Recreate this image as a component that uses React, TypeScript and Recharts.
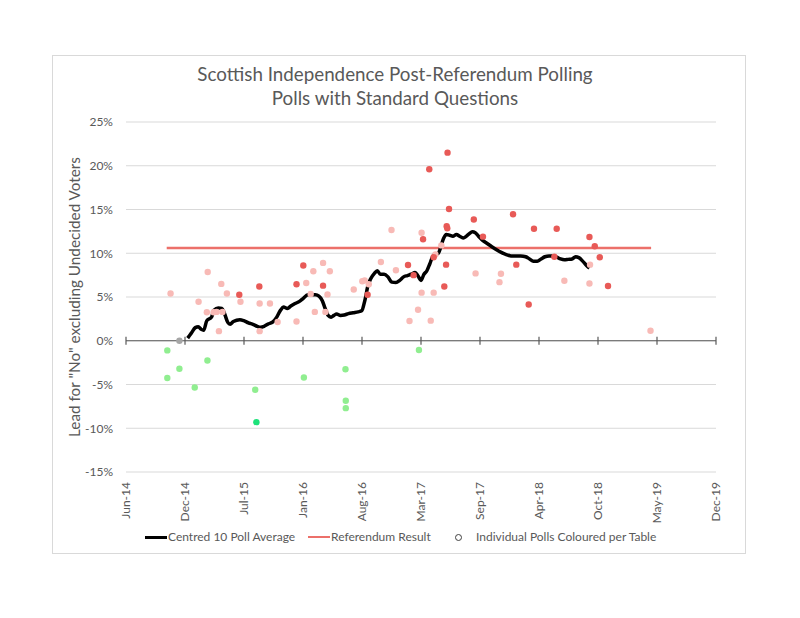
import React from 'react'
import {
  ComposedChart,
  Line,
  Scatter,
  XAxis,
  YAxis,
  CartesianGrid,
  ReferenceLine,
} from 'recharts'

// x values are Excel serial dates, y is the lead for "No" in %
const dateTicks = [41800, 42000, 42200, 42400, 42600, 42800, 43000, 43200, 43400, 43600, 43800]
const leadTicks = [-15, -10, -5, 0, 5, 10, 15, 20, 25]

const referendumLead = 10.6
const referendumSpan = [41938, 43580]

const centredAverage = [
  [42009, 0.3], [42022, 0.9], [42035, 1.5], [42045, 1.6], [42055, 1.3], [42063, 1.2],
  [42074, 2.3], [42090, 2.7], [42098, 3.5], [42113, 3.75], [42125, 3.7], [42133, 3.2],
  [42145, 2.1], [42153, 1.9], [42164, 2.2], [42186, 2.4], [42199, 2.3], [42215, 2.05],
  [42232, 1.85], [42245, 1.65], [42256, 1.55], [42268, 1.65], [42281, 1.9], [42298, 2.15],
  [42311, 2.7], [42324, 3.5], [42334, 3.85], [42347, 3.7], [42360, 4.0], [42373, 4.25],
  [42388, 4.5], [42401, 4.85], [42416, 5.25], [42429, 5.25], [42442, 5.25], [42454, 5.1],
  [42465, 4.6], [42475, 3.7], [42485, 2.9], [42495, 2.7], [42505, 2.9], [42514, 3.05],
  [42527, 2.9], [42540, 2.95], [42554, 3.1], [42570, 3.2], [42587, 3.3], [42600, 3.45],
  [42606, 4.1], [42613, 5.1], [42619, 6.15], [42629, 7.05], [42642, 7.7], [42652, 8.0],
  [42662, 7.6], [42675, 7.6], [42688, 7.3], [42701, 6.7], [42715, 6.65], [42728, 6.9],
  [42741, 7.3], [42754, 7.45], [42767, 7.6], [42780, 7.8], [42790, 7.4], [42800, 6.9],
  [42810, 7.6], [42820, 8.0], [42830, 8.8], [42839, 9.6], [42849, 9.9], [42859, 10.0],
  [42866, 10.6], [42876, 11.65], [42886, 12.15], [42897, 12.05], [42908, 11.95], [42920, 12.15],
  [42931, 11.95], [42943, 11.75], [42954, 11.95], [42964, 12.25], [42974, 12.45], [42984, 12.35],
  [42995, 11.95], [43008, 11.5], [43023, 11.15], [43040, 10.75], [43056, 10.4], [43072, 10.1],
  [43089, 9.85], [43105, 9.7], [43122, 9.7], [43138, 9.7], [43155, 9.6], [43168, 9.35],
  [43181, 9.1], [43194, 9.1], [43207, 9.35], [43220, 9.6], [43234, 9.7], [43247, 9.7],
  [43260, 9.55], [43273, 9.35], [43286, 9.25], [43299, 9.3], [43312, 9.35], [43324, 9.6],
  [43335, 9.5], [43348, 9.1], [43361, 8.6], [43371, 8.3],
]

// polls, grouped by the colour they get in the source table
const palePolls = [
  [41951, 5.4], [42046, 4.45], [42074, 3.25], [42077, 7.85], [42097, 3.25], [42107, 3.3],
  [42115, 1.1], [42123, 6.5], [42127, 3.3], [42142, 5.4], [42188, 4.45], [42253, 4.25],
  [42253, 1.1], [42288, 4.25], [42314, 2.15], [42378, 2.2], [42411, 6.6], [42426, 5.35],
  [42435, 7.95], [42440, 3.3], [42468, 8.9], [42476, 3.3], [42483, 5.3], [42491, 7.95],
  [42572, 5.85], [42601, 6.8], [42609, 6.9], [42623, 6.45], [42664, 9.0], [42700, 12.65],
  [42715, 8.05], [42761, 2.25], [42790, 3.55], [42802, 12.35], [42802, 5.5], [42833, 2.3],
  [42843, 5.5], [42849, 9.85], [42869, 10.9], [42985, 7.7], [43066, 6.7], [43071, 7.65],
  [43286, 6.85], [43373, 8.7], [43371, 6.55], [43578, 1.15],
]

const redPolls = [
  [42184, 5.25], [42252, 6.2], [42378, 6.45], [42401, 8.6], [42468, 6.3], [42619, 5.25],
  [42756, 8.65], [42775, 7.5], [42807, 11.6], [42828, 19.6], [42843, 9.55], [42879, 6.2],
  [42885, 8.7], [42887, 13.1], [42889, 12.85], [42890, 21.5], [42895, 15.05], [42979, 13.85],
  [43010, 11.9], [43112, 14.45], [43123, 8.7], [43165, 4.15], [43183, 12.8], [43252, 9.6],
  [43260, 12.8], [43371, 11.85], [43389, 10.8], [43406, 9.55], [43434, 6.25],
]

const greenPolls = [
  [41940, -1.1], [41940, -4.25], [41981, -3.2], [42033, -5.35], [42076, -2.25], [42238, -5.6],
  [42403, -4.2], [42544, -3.25], [42545, -6.85], [42545, -7.7], [42793, -1.05],
]

const brightGreenPolls = [[42242, -9.3]]
const greyPolls = [[41981, 0]]

const FONT = 'Lato, "Open Sans", sans-serif'
const TEXT = '#595959'
const MONTHS = ['Jan', 'Feb', 'Mar', 'Apr', 'May', 'Jun', 'Jul', 'Aug', 'Sep', 'Oct', 'Nov', 'Dec']

const toPoints = (rows: number[][]) => rows.map(([x, y]) => ({ x, y }))

function serialToLabel(serial: number) {
  const d = new Date(Date.UTC(1899, 11, 30) + serial * 86400000)
  return `${MONTHS[d.getUTCMonth()]}-${String(d.getUTCFullYear()).slice(2)}`
}

function DateTick({ x, y, payload }: any) {
  return (
    <text
      x={x}
      y={y}
      dy={4}
      textAnchor="end"
      transform={`rotate(-90, ${x}, ${y})`}
      fill={TEXT}
      fontSize={12}
      fontFamily={FONT}
    >
      {serialToLabel(payload.value)}
    </text>
  )
}

const dot = (fill: string) => (props: any) =>
  <circle cx={props.cx} cy={props.cy} r={3.2} fill={fill} />

export default function App() {
  const referendum = referendumSpan.map(x => ({ x, y: referendumLead }))

  return (
    <div style={{ position: 'absolute', left: 0, top: 0, width: 800, height: 618, background: '#fff', fontFamily: FONT }}>
      <div style={{ position: 'absolute', left: 52, top: 55, width: 692, height: 497, border: '1px solid #d9d9d9' }} />

      <div style={{ position: 'absolute', left: 0, top: 62, width: 790, textAlign: 'center', color: TEXT, fontSize: 18.8, lineHeight: '24px' }}>
        Scottish Independence Post-Referendum Polling
        <br />
        Polls with Standard Questions
      </div>

      <div style={{ position: 'absolute', left: 0, top: 0 }}>
        <ComposedChart width={800} height={618} margin={{ top: 122, right: 84, bottom: 86, left: 66 }}>
          <CartesianGrid vertical={false} stroke="#d9d9d9" />
          <XAxis
            type="number"
            dataKey="x"
            domain={[41800, 43800]}
            ticks={dateTicks}
            height={60}
            axisLine={false}
            tickLine={false}
            tickSize={0}
            tickMargin={10}
            tick={<DateTick />}
            interval={0}
          />
          <YAxis
            type="number"
            domain={[-15, 25]}
            ticks={leadTicks}
            width={60}
            axisLine={false}
            tickLine={false}
            tickSize={0}
            tickMargin={13}
            tickFormatter={v => `${v}%`}
            tick={{ fill: TEXT, fontSize: 12, fontFamily: FONT }}
            label={{
              value: 'Lead for "No" excluding Undecided Voters',
              angle: -90,
              position: 'insideLeft',
              offset: 9,
              style: { textAnchor: 'middle', fill: TEXT, fontSize: 15.3, fontFamily: FONT },
            }}
          />
          <ReferenceLine y={0} stroke={TEXT} strokeWidth={1.2} />
          {dateTicks.map(t => (
            <ReferenceLine
              key={t}
              segment={[{ x: t, y: -0.45 }, { x: t, y: 0.45 }]}
              stroke={TEXT}
              strokeWidth={1.2}
            />
          ))}
          <Line
            data={referendum}
            dataKey="y"
            stroke="#ec706a"
            strokeWidth={2.4}
            dot={false}
            isAnimationActive={false}
          />
          <Line
            data={toPoints(centredAverage)}
            dataKey="y"
            type="monotone"
            stroke="#000"
            strokeWidth={3.5}
            dot={false}
            isAnimationActive={false}
          />
          <Scatter data={toPoints(palePolls)} dataKey="y" shape={dot('#f8bab6')} isAnimationActive={false} />
          <Scatter data={toPoints(redPolls)} dataKey="y" shape={dot('#e85a57')} isAnimationActive={false} />
          <Scatter data={toPoints(greenPolls)} dataKey="y" shape={dot('#90ee90')} isAnimationActive={false} />
          <Scatter data={toPoints(brightGreenPolls)} dataKey="y" shape={dot('#1de27a')} isAnimationActive={false} />
          <Scatter data={toPoints(greyPolls)} dataKey="y" shape={dot('#a6a6a6')} isAnimationActive={false} />
        </ComposedChart>
      </div>

      {/* legend */}
      <div style={{ position: 'absolute', top: 529, left: 0, width: 800, height: 16, color: TEXT, fontSize: 12 }}>
        <div style={{ position: 'absolute', left: 145, top: 7, width: 22, height: 3, background: '#000' }} />
        <div style={{ position: 'absolute', left: 168, top: 0 }}>Centred 10 Poll Average</div>
        <div style={{ position: 'absolute', left: 308, top: 7, width: 22, height: 2, background: '#ec706a' }} />
        <div style={{ position: 'absolute', left: 331, top: 0 }}>Referendum Result</div>
        <div style={{ position: 'absolute', left: 455, top: 5, width: 5, height: 5, borderRadius: '50%', border: '1px solid #404040' }} />
        <div style={{ position: 'absolute', left: 476, top: 0 }}>Individual Polls Coloured per Table</div>
      </div>
    </div>
  )
}
